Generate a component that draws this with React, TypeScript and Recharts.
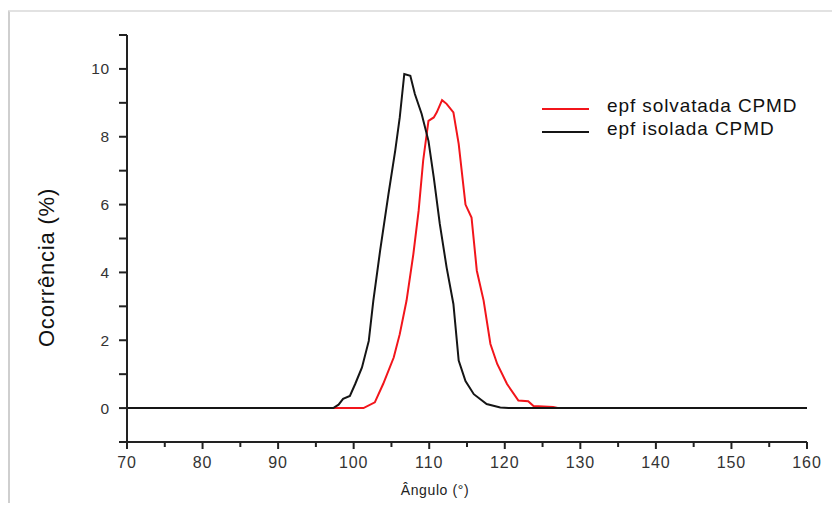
import React from 'react';
import { LineChart, Line, XAxis, YAxis, Legend } from 'recharts';

// angle distribution, epf solvated (red) and isolated (black)
const solvatedAngles = [70, 101.3, 102.8, 103.9, 105.3, 106.1, 107.0, 107.9, 108.6, 109.2, 109.9, 110.6, 111.0, 111.7, 112.3, 113.2, 113.9, 114.8, 115.6, 116.3, 117.2, 118.1, 119.0, 120.3, 121.8, 123.1, 123.8, 126.4, 127, 160];
const solvatedValues = [0, 0, 0.17, 0.71, 1.49, 2.18, 3.17, 4.54, 5.82, 7.3, 8.47, 8.57, 8.72, 9.08, 8.97, 8.72, 7.79, 6.0, 5.62, 4.05, 3.17, 1.89, 1.3, 0.71, 0.22, 0.2, 0.06, 0.03, 0, 0];

const isolatedAngles = [70, 97.3, 98.0, 98.6, 99.5, 100.2, 101.1, 102.0, 102.6, 103.5, 104.6, 105.5, 106.1, 106.7, 107.5, 108.1, 109.0, 109.9, 110.6, 111.4, 112.3, 113.2, 113.9, 114.8, 115.9, 117.6, 119.4, 120.5, 160];
const isolatedValues = [0, 0, 0.1, 0.27, 0.36, 0.71, 1.2, 1.98, 3.16, 4.64, 6.3, 7.59, 8.57, 9.85, 9.8, 9.26, 8.67, 7.88, 6.8, 5.43, 4.15, 3.07, 1.4, 0.8, 0.41, 0.12, 0.02, 0, 0];

const xTicks = [70, 75, 80, 85, 90, 95, 100, 105, 110, 115, 120, 125, 130, 135, 140, 145, 150, 155, 160];
const yTicks = [-1, 0, 1, 2, 3, 4, 5, 6, 7, 8, 9, 10, 11];

const seriesNames = ['epf solvatada CPMD', 'epf isolada CPMD'];
const seriesColors = ['#f2151b', '#151515'];

const toPoints = (angles: number[], values: number[]) =>
  angles.map((a, i) => ({ angle: a, value: values[i] }));

const solvated = toPoints(solvatedAngles, solvatedValues);
const isolated = toPoints(isolatedAngles, isolatedValues);

const FONT = '"Liberation Sans", Arial, Helvetica, sans-serif';

const XTick = (props: any) => {
  const { x, y, payload } = props;
  const major = payload.value % 10 === 0;
  return (
    <g>
      <line x1={x} y1={y} x2={x} y2={y + (major ? 7 : 5)} stroke="#222" strokeWidth={2} />
      {major && (
        <text x={x} y={y + 26} textAnchor="middle" fontFamily={FONT} fontSize={16} letterSpacing={0.9} fill="#333">
          {payload.value}
        </text>
      )}
    </g>
  );
};

// y tick marks come from the axis itself (tickSize 8); this only draws the labels
const YTickLabel = (props: any) => {
  const { x, y, payload } = props;
  const v = payload.value;
  const major = v % 2 === 0 && v >= 0 && v <= 10;
  if (!major) return <g />;
  return (
    <text x={x - 9} y={y + 5.5} textAnchor="end" fontFamily={FONT} fontSize={15.5} letterSpacing={0.8} fill="#333">
      {v}
    </text>
  );
};

const renderLegend = () => (
  <div>
    {seriesNames.map((name, i) => (
      <div key={name} style={{ display: 'flex', alignItems: 'center', height: 23.5 }}>
        <div style={{ width: 47, height: 2, background: seriesColors[i], marginRight: 18, position: 'relative', top: 3 }} />
        <span style={{ fontFamily: FONT, fontSize: 19, letterSpacing: 0.9, color: '#111', whiteSpace: 'nowrap' }}>{name}</span>
      </div>
    ))}
  </div>
);

export default function App() {
  return (
    <div style={{ position: 'relative', width: 840, height: 511, margin: -8, background: '#fff', overflow: 'hidden' }}>
      <div
        style={{
          position: 'absolute',
          left: 7,
          top: 10,
          width: 860,
          height: 540,
          borderLeft: '3px solid #cfcfcf',
          borderTop: '2px solid #e2e2e2',
        }}
      />
      <LineChart width={840} height={511} margin={{ top: 35, right: 33, left: 27, bottom: 39 }}>
        <XAxis
          type="number"
          dataKey="angle"
          domain={[70, 160]}
          ticks={xTicks}
          interval={0}
          allowDataOverflow
          height={30}
          tickSize={0}
          tickMargin={0}
          tick={<XTick />}
          axisLine={{ stroke: '#222', strokeWidth: 2 }}
          label={{
            content: (p: any) => {
              const vb = p.viewBox;
              return (
                <text x={vb.x + vb.width / 2 - 32} y={vb.y + 53} textAnchor="middle" fontFamily={FONT} fontSize={14} letterSpacing={0.6} fill="#222">
                  Ângulo (°)
                </text>
              );
            },
          }}
        />
        <YAxis
          type="number"
          domain={[-1, 11]}
          ticks={yTicks}
          interval={0}
          allowDataOverflow
          width={100}
          tickSize={8}
          tickMargin={0}
          tick={<YTickLabel />}
          tickLine={{ stroke: '#222', strokeWidth: 2 }}
          axisLine={{ stroke: '#222', strokeWidth: 2 }}
          label={{
            content: (p: any) => {
              const vb = p.viewBox;
              const cx = vb.x + 19;
              const cy = vb.y + vb.height / 2 + 29;
              return (
                <text
                  x={cx}
                  y={cy}
                  transform={`rotate(-90, ${cx}, ${cy})`}
                  textAnchor="middle"
                  dominantBaseline="central"
                  fontFamily={FONT}
                  fontSize={22}
                  letterSpacing={0.8}
                  fill="#111"
                >
                  Ocorrência (%)
                </text>
              );
            },
          }}
        />
        <Legend
          layout="vertical"
          align="center"
          verticalAlign="middle"
          content={renderLegend}
          wrapperStyle={{ position: 'absolute', left: 542, top: 94, width: 290 }}
        />
        <Line
          data={solvated}
          dataKey="value"
          name={seriesNames[0]}
          type="linear"
          stroke={seriesColors[0]}
          strokeWidth={2}
          dot={false}
          isAnimationActive={false}
        />
        <Line
          data={isolated}
          dataKey="value"
          name={seriesNames[1]}
          type="linear"
          stroke={seriesColors[1]}
          strokeWidth={2}
          dot={false}
          isAnimationActive={false}
        />
      </LineChart>
    </div>
  );
}
